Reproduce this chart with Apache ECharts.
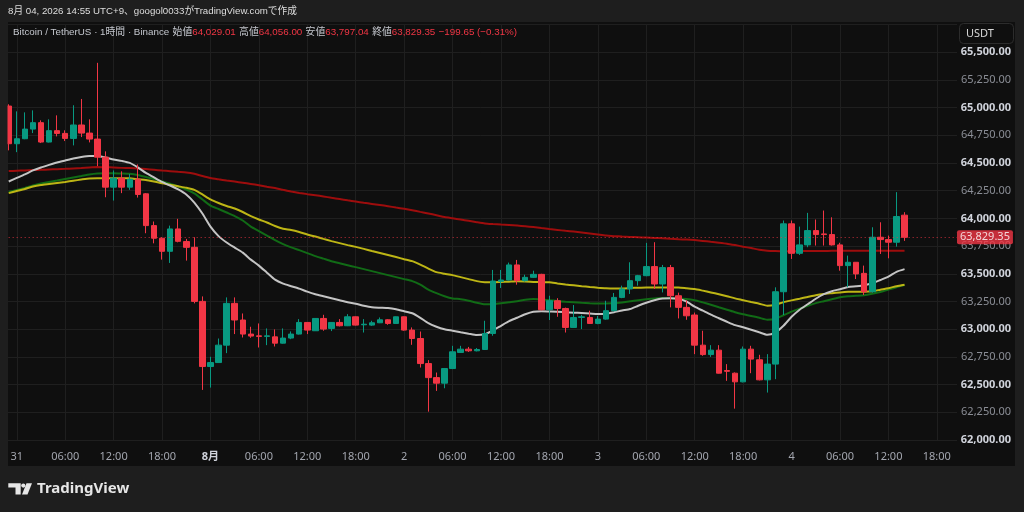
<!DOCTYPE html>
<html><head><meta charset="utf-8">
<script src="https://cdn.jsdelivr.net/npm/echarts@6/dist/echarts.min.js"></script>
<style>html,body{margin:0;padding:0;background:#1e1e1e;}#c{width:1024px;height:512px;}</style>
</head><body><div id="c"></div>
<script>
const FONT = "'Noto Sans','Noto Sans CJK JP',sans-serif";
const HFONT = "'Liberation Sans','Noto Sans CJK JP',sans-serif";

// hourly candles [open, close, low, high], first = 2026-07-30 23:00
const candles = [
[65014,64674,64614,65030],[64674,64719,64598,64966],[64719,64806,64715,64957],[64806,64864,64770,64975],
[64864,64689,64680,64885],[64689,64792,64685,64894],[64792,64767,64740,64930],[64767,64722,64698,64795],
[64722,64843,64659,65021],[64843,64770,64734,65078],[64770,64716,64686,64894],[64716,64553,64472,65404],
[64553,64282,64191,64605],[64282,64363,64161,64433],[64363,64282,64228,64425],[64282,64354,64258,64400],
[64354,64216,64188,64487],[64222,63935,63866,64228],[63935,63821,63775,63972],[63821,63703,63628,63830],
[63703,63905,63598,63935],[63905,63793,63784,63996],[63791,63739,63619,63815],[63739,63251,63233,63830],
[63251,62663,62452,63296],[62663,62699,62473,62751],[62699,62856,62695,62916],[62856,63233,62784,63287],
[63233,63083,62956,63287],[63083,62956,62925,63142],[62956,62938,62922,63022],[62940,62935,62835,63052],
[62935,62940,62856,63007],[62931,62874,62844,62998],[62874,62920,62870,63007],[62920,62956,62910,62980],
[62956,63061,62952,63091],[63061,62992,62956,63065],[62986,63097,62984,63100],[63097,63001,62986,63130],
[63007,63061,62983,63065],[63061,63031,63025,63091],[63031,63112,63028,63136],[63112,63037,63033,63115],
[63040,63045,62970,63091],[63037,63058,63030,63076],[63058,63085,63055,63106],[63085,63052,63040,63090],
[63052,63112,63048,63115],[63112,62992,62986,63115],[62992,62916,62859,63016],[62916,62690,62654,62979],
[62690,62563,62256,62721],[62563,62513,62443,62609],[62513,62645,62467,62650],[62645,62796,62640,62850],
[62790,62820,62785,62850],[62820,62805,62795,62840],[62805,62817,62800,62830],[62817,62961,62812,63076],
[62961,63435,62941,63535],[63432,63444,63372,63535],[63444,63580,63440,63601],[63580,63438,63402,63625],
[63438,63468,63430,63492],[63468,63495,63463,63528],[63495,63176,63170,63500],[63176,63257,63083,63302],
[63257,63187,63112,63280],[63187,63016,62970,63195],[63016,63106,63012,63218],[63106,63112,63001,63130],
[63106,63052,63048,63167],[63052,63091,63045,63120],[63091,63167,63085,63257],[63167,63287,63160,63327],
[63287,63363,63280,63393],[63363,63438,63318,63604],[63438,63483,63393,63490],[63483,63565,63478,63779],
[63565,63408,63363,63785],[63408,63556,63332,63580],[63556,63302,63197,63580],[63302,63197,63097,63330],
[63197,63121,63085,63260],[63128,62856,62775,63150],[62856,62771,62760,62986],[62771,62811,62750,62856],
[62811,62603,62600,62856],[62627,62620,62534,62685],[62603,62525,62283,62610],[62525,62820,62520,62844],
[62820,62730,62603,62850],[62724,62543,62538,62769],[62543,62685,62428,62775],[62685,63338,62549,63378],
[63338,63951,63128,63981],[63951,63685,63634,63981],[63685,63761,63670,63926],[63761,63890,63740,64050],
[63890,63854,63755,63990],[63860,63854,63755,64071],[63854,63761,63755,64010],[63761,63574,63528,63780],
[63574,63604,63378,63664],[63604,63499,63453,63604],[63504,63338,63309,63574],[63338,63830,63330,63920],
[63830,63809,63679,63965],[63809,63785,63640,63845],[63785,64017,63745,64237],[64029.01,63829.35,63797.04,64056]
];

const maWhite = [
64333,64365,64397,64433,64460,64483,64505,64523,64541,64555,
64564,64564,64550,64532,64519,64501,64460,64410,64370,64329,
64297,64261,64216,64143,64044,63926,63840,63782,63736,63691,
63628,63574,63510,63447,63411,63388,63366,63339,63316,63298,
63280,63262,63244,63230,63212,63198,63194,63191,63180,63162,
63144,63103,63054,63022,62999,62986,62972,62959,62947,62954,
62990,63031,63072,63103,63135,63158,63162,63160,63158,63153,
63149,63146,63142,63137,63140,63153,63169,63182,63212,63239,
63262,63278,63280,63275,63248,63203,63167,63131,63099,63067,
63037,63017,62995,62972,62950,62972,63031,63112,63176,63225,
63275,63316,63343,63361,63381,63388,63397,63415,63444,63474,
63518,63542];

const maGreen = [
64238,64257,64275,64297,64315,64329,64342,64356,64370,64383,
64397,64406,64408,64408,64406,64403,64392,64374,64356,64333,
64313,64288,64261,64225,64171,64116,64085,64053,64021,63981,
63926,63886,63845,63804,63768,63739,63714,63687,63660,63637,
63614,63596,63578,63560,63542,63524,63506,63488,63470,63452,
63434,63402,63357,63325,63298,63278,63271,63257,63239,63225,
63225,63235,63244,63253,63266,63273,63269,63262,63254,63248,
63244,63239,63235,63233,63233,63236,63241,63253,63262,63271,
63278,63282,63280,63275,63273,63262,63242,63221,63198,63176,
63153,63135,63120,63103,63085,63094,63126,63158,63185,63212,
63235,63253,63271,63289,63298,63302,63307,63320,63336,63357,
63379,63399];

const maYellow = [
64228,64247,64266,64288,64302,64311,64320,64329,64340,64351,
64361,64363,64363,64363,64363,64362,64354,64347,64333,64317,
64304,64290,64276,64257,64216,64171,64139,64112,64089,64058,
64021,63990,63963,63931,63906,63895,63877,63854,63836,63815,
63795,63777,63759,63743,63725,63705,63687,63669,63651,63632,
63614,63583,63547,63515,63501,63488,63470,63452,63434,63424,
63423,63426,63429,63432,63431,63427,63424,63423,63413,63404,
63396,63388,63381,63375,63370,63368,63368,63372,63375,63377,
63377,63377,63377,63377,63370,63363,63348,63332,63316,63298,
63278,63262,63245,63230,63212,63221,63244,63260,63275,63291,
63307,63318,63325,63332,63337,63339,63339,63343,63357,63370,
63388,63402];

const maRed = [
64427,64430,64433,64436,64438,64441,64444,64447,64451,64455,
64460,64463,64462,64459,64456,64454,64450,64445,64439,64432,
64426,64420,64415,64403,64383,64365,64353,64342,64332,64322,
64311,64299,64286,64274,64258,64243,64230,64219,64209,64198,
64186,64175,64163,64152,64141,64131,64121,64110,64098,64087,
64074,64059,64044,64029,64012,64001,63990,63978,63966,63955,
63949,63944,63940,63935,63929,63922,63913,63904,63896,63888,
63881,63872,63863,63854,63845,63840,63836,63833,63830,63827,
63824,63821,63816,63812,63809,63804,63797,63789,63781,63772,
63759,63745,63732,63718,63709,63705,63703,63704,63705,63705,
63706,63706,63707,63707,63708,63708,63708,63709,63709,63709,
63709,63709];

const lastPrice = 63829.35;
const lastPriceText = '63,829.35';
const xTickLabels = [
['7/31 00:00','31'],['7/31 06:00','06:00'],['7/31 12:00','12:00'],['7/31 18:00','18:00'],
['8/1 00:00','8月'],['8/1 06:00','06:00'],['8/1 12:00','12:00'],['8/1 18:00','18:00'],
['8/2 00:00','2'],['8/2 06:00','06:00'],['8/2 12:00','12:00'],['8/2 18:00','18:00'],
['8/3 00:00','3'],['8/3 06:00','06:00'],['8/3 12:00','12:00'],['8/3 18:00','18:00'],
['8/4 00:00','4'],['8/4 06:00','06:00'],['8/4 12:00','12:00'],['8/4 18:00','18:00']];
const boldTicks = ['8月'];
const yMin = 62000, yMax = 65750, yStep = 250;

// hourly categories (includes empty slots to the right of the last candle)
const categories = [];
const start = Date.UTC(2026, 6, 30, 23);
for (let i = 0; i < 118; i++) {
  const d = new Date(start + i * 3600000);
  categories.push((d.getUTCMonth() + 1) + '/' + d.getUTCDate() + ' ' + String(d.getUTCHours()).padStart(2, '0') + ':00');
}
const tickMap = new Map(xTickLabels);

const chart = echarts.init(document.getElementById('c'), null, {renderer: 'canvas'});
const fmtNum = v => v.toLocaleString('en-US', {minimumFractionDigits: 2, maximumFractionDigits: 2});

const option = {
  backgroundColor: '#1e1e1e',
  animation: false,
  textStyle: {fontFamily: FONT},
  grid: {left: 4.67, right: 67, top: 24.5, bottom: 72, outerBoundsMode: 'none', containLabel: false},
  xAxis: {
    type: 'category', data: categories, boundaryGap: true,
    axisLine: {show: false}, axisTick: {show: false},
    axisLabel: {
      interval: (i, v) => tickMap.has(v),
      formatter: v => { const t = tickMap.get(v) || ''; return boldTicks.includes(t) ? '{b|' + t + '}' : t; },
      color: '#a3a6af', fontSize: 11, margin: 11, fontFamily: FONT,
      rich: {b: {color: '#d1d4dc', fontWeight: 'bold', fontSize: 11, fontFamily: FONT}}
    },
    splitLine: {show: true, interval: (i, v) => tickMap.has(v), alignWithLabel: true, lineStyle: {color: '#1f1f1f', width: 1}}
  },
  yAxis: {
    type: 'value', position: 'right', min: yMin, max: yMax, interval: yStep,
    axisLine: {show: false}, axisTick: {show: false},
    splitLine: {lineStyle: {color: '#1f1f1f', width: 1}},
    axisLabel: {
      align: 'right', margin: 54, fontSize: 11, fontFamily: FONT,
      formatter: v => {
        if (v >= yMax) return '';
        return (v % 500 === 0 ? '{a|' : '{b|') + fmtNum(v) + '}';
      },
      rich: {
        a: {color: '#d1d4dc', fontWeight: 'bold', fontSize: 11, fontFamily: FONT},
        b: {color: '#8b8e96', fontSize: 11, fontFamily: FONT}
      }
    }
  },
  series: [
    {type: 'line', data: maRed, showSymbol: false, smooth: 0.2, z: 1, lineStyle: {color: '#9e0d0d', width: 2}, silent: true},
    {type: 'line', data: maGreen, showSymbol: false, smooth: 0.2, z: 1, lineStyle: {color: '#116b16', width: 2}, silent: true},
    {type: 'line', data: maYellow, showSymbol: false, smooth: 0.2, z: 1, lineStyle: {color: '#bdb515', width: 2}, silent: true},
    {type: 'line', data: maWhite, showSymbol: false, smooth: 0.2, z: 1, lineStyle: {color: '#c4c4c4', width: 2}, silent: true},
    {
      type: 'candlestick', data: candles, barWidth: 6, z: 3,
      itemStyle: {color: '#089981', color0: '#f23645', borderColor: '#089981', borderColor0: '#f23645', borderWidth: 1},
      markLine: {
        silent: true, symbol: ['none', 'none'],
        lineStyle: {color: '#f23645', type: [1, 3], width: 1, opacity: 0.8},
        label: {
          show: true, position: 'end', distance: 0, formatter: lastPriceText,
          backgroundColor: '#f23645', color: '#ffffff', fontSize: 11, fontFamily: FONT,
          padding: [2, 3, 1, 3], borderRadius: 2
        },
        data: [{yAxis: lastPrice}]
      }
    }
  ],
  graphic: [
    {type: 'rect', z: -10, silent: true, shape: {x: 8, y: 22, width: 1007, height: 444}, style: {fill: '#0f0f0f'}},
    {type: 'rect', z: 100, silent: true, shape: {x: 0, y: 22, width: 7.5, height: 444}, style: {fill: '#1e1e1e'}},
    {type: 'text', z: 100, x: 8, y: 11, style: {text: '8月 04, 2026 14:55 UTC+9、googol0033がTradingView.comで作成', fill: '#dedede', font: '9.7px ' + HFONT, verticalAlign: 'middle'}},
    {type: 'text', z: 100, x: 13, y: 32, style: {
      text: '{g|Bitcoin / TetherUS · 1時間 · Binance} {g|始値}{r|64,029.01} {g|高値}{r|64,056.00} {g|安値}{r|63,797.04} {g|終値}{r|63,829.35} {r|−199.65 (−0.31%)}',
      verticalAlign: 'middle',
      rich: {
        g: {fill: '#c4c7ce', font: '9.8px ' + HFONT},
        r: {fill: '#f23645', font: '9.8px ' + HFONT}
      }
    }},
    {type: 'rect', z: 100, silent: true, shape: {x: 959.5, y: 23.5, width: 54, height: 20, r: 4}, style: {fill: '#0f0f0f', stroke: '#2c2c2c', lineWidth: 1}},
    {type: 'text', z: 101, x: 966, y: 34, style: {text: 'USDT', fill: '#d8d8d8', font: '11px ' + FONT, verticalAlign: 'middle'}},
    // TradingView logo
    {type: 'polygon', z: 100, shape: {points: [[8.3,483.3],[20.7,483.3],[20.7,494.5],[15.5,494.5],[15.5,487.5],[8.3,487.5]]}, style: {fill: '#e6e6e6'}},
    {type: 'circle', z: 100, shape: {cx: 23.3, cy: 485.6, r: 2.1}, style: {fill: '#e6e6e6'}},
    {type: 'polygon', z: 100, shape: {points: [[26.5,483.3],[32,483.3],[27.5,494.5],[22,494.5]]}, style: {fill: '#e6e6e6'}},
    {type: 'text', z: 100, x: 37, y: 489, style: {text: 'TradingView', fill: '#e6e6e6', font: 'bold 15px ' + FONT, verticalAlign: 'middle'}}
  ]
};
chart.setOption(option);
</script>
</body></html>
